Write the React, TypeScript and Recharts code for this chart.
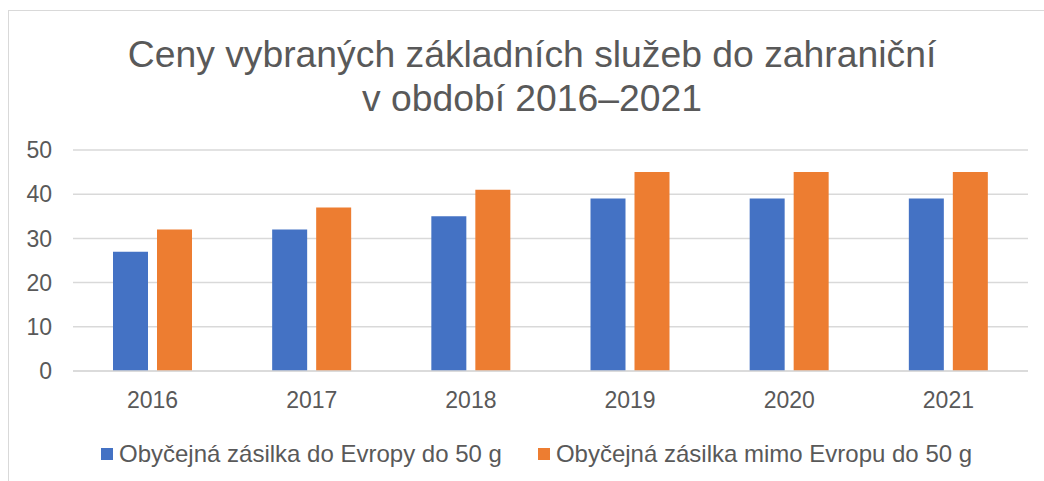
import { Bar, BarChart, CartesianGrid, Legend, XAxis, YAxis } from "recharts";

const years = ["2016", "2017", "2018", "2019", "2020", "2021"];
const evropa = [27, 32, 35, 39, 39, 39];
const mimoEvropu = [32, 37, 41, 45, 45, 45];
const yTicks = [0, 10, 20, 30, 40, 50];

const SERIES_A = "Obyčejná zásilka do Evropy do 50 g";
const SERIES_B = "Obyčejná zásilka mimo Evropu do 50 g";

const ink = "#595959";
const rule = "#d9d9d9";
const font = "'Liberation Sans', Arial, sans-serif";

const data = years.map((y, i) => ({ year: y, a: evropa[i], b: mimoEvropu[i] }));

function LegendContent(props: any) {
  const items = props.payload || [];
  return (
    <div style={{ display: "flex", paddingLeft: 101, marginTop: 9, fontFamily: font, fontSize: 24, color: ink, alignItems: "center" }}>
      {items.map((it: any, i: number) => (
        <div key={i} style={{ display: "flex", alignItems: "center", marginRight: 36 }}>
          <span style={{ width: 12, height: 12, background: it.color, display: "inline-block", marginRight: 6 }} />
          <span>{it.value}</span>
        </div>
      ))}
    </div>
  );
}

export default function App() {
  return (
    <div style={{ position: "absolute", left: 0, top: 0, width: 1044, height: 481, background: "#fff", overflow: "hidden" }}>
      <div
        style={{
          position: "absolute",
          left: 8,
          top: 10,
          width: 1040,
          height: 480,
          borderTop: `1px solid ${rule}`,
          borderLeft: `1px solid ${rule}`,
        }}
      />
      <div
        style={{
          position: "absolute",
          left: 0,
          top: 32,
          width: 1064,
          textAlign: "center",
          fontFamily: font,
          fontSize: 37.3,
          lineHeight: "44px",
          color: ink,
        }}
      >
        Ceny vybraných základních služeb do zahraniční
        <br />v období 2016–2021
      </div>
      <BarChart
        width={1044}
        height={481}
        data={data}
        margin={{ top: 150, right: 16, left: 0, bottom: 10 }}
        barSize={35}
        barGap={9}
        style={{ position: "absolute", left: 0, top: 0 }}
      >
        <CartesianGrid vertical={false} stroke={rule} strokeWidth={1.5} />
        <XAxis
          dataKey="year"
          height={60}
          tickLine={false}
          tickSize={0}
          tickMargin={21}
          axisLine={{ stroke: rule, strokeWidth: 1.5 }}
          tick={{ fill: ink, fontSize: 23, fontFamily: font }}
        />
        <YAxis
          width={73}
          domain={[0, 50]}
          ticks={yTicks}
          axisLine={false}
          tickLine={false}
          tickSize={0}
          tickMargin={21}
          tick={{ fill: ink, fontSize: 23, fontFamily: font }}
        />
        <Legend verticalAlign="bottom" height={40} content={<LegendContent />} />
        <Bar dataKey="a" name={SERIES_A} fill="#4472C4" isAnimationActive={false} />
        <Bar dataKey="b" name={SERIES_B} fill="#ED7D31" isAnimationActive={false} />
      </BarChart>
    </div>
  );
}
